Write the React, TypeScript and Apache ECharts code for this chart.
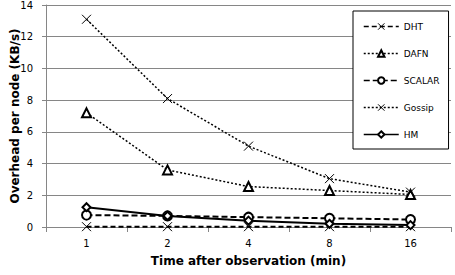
import React, { useEffect, useRef } from "react";
import * as echarts from "echarts";

const categories = ["1", "2", "4", "8", "16"];
const dht = [0.02, 0.02, 0.02, 0.02, 0.02];
const dafn = [7.2, 3.6, 2.55, 2.3, 2.05];
const scalar = [0.75, 0.7, 0.62, 0.55, 0.47];
const gossip = [13.1, 8.1, 5.1, 3.05, 2.2];
const hm = [1.25, 0.7, 0.4, 0.2, 0.12];
const yTicks = { min: 0, max: 14, interval: 2 };

const FONT = "DejaVu Sans";
const cross = "path://M0,0L10,10M10,0L0,10";

export default function App() {
  const ref = useRef<HTMLDivElement>(null);
  useEffect(() => {
    const chart = echarts.init(ref.current!, null, { renderer: "svg" });
    const mk = (name: string, data: number[], lineType: any, width: number, symbol: string, size: number) => ({
      name,
      type: "line",
      data,
      symbol,
      symbolSize: size,
      showAllSymbol: true,
      lineStyle: { color: "#000", width, type: lineType },
      itemStyle: symbol.startsWith("path")
        ? { color: "rgba(0,0,0,0)", borderColor: "#000", borderWidth: 1 }
        : { color: "#000", borderColor: "#000", borderWidth: 1 },
    });
    chart.setOption({
      animation: false,
      textStyle: { fontFamily: FONT },
      grid: { left: 46, right: 4, top: 5, bottom: 48, outerBoundsMode: "none", containLabel: false },
      legend: {
        orient: "vertical",
        left: 353,
        top: 11,
        padding: [11, 9, 10, 10],
        itemGap: 18,
        itemWidth: 35,
        itemHeight: 8,
        borderColor: "#000",
        borderWidth: 1,
        borderRadius: 0,
        backgroundColor: "#fff",
        lineStyle: { width: 1.5 },
        itemStyle: { borderWidth: 1 },
        textStyle: { fontFamily: FONT, fontSize: 9, color: "#000" },
        data: ["DHT", "DAFN", "SCALAR", "Gossip", "HM"],
      },
      xAxis: {
        type: "category",
        data: categories,
        boundaryGap: true,
        name: "Time after observation (min)",
        nameLocation: "middle",
        nameGap: 28,
        nameMoveOverlap: false,
        nameTextStyle: { fontFamily: FONT, fontSize: 12, fontWeight: "bold", color: "#000" },
        axisLine: { lineStyle: { color: "#868686" } },
        axisTick: { show: true, length: 5, lineStyle: { color: "#868686" } },
        axisLabel: { fontFamily: FONT, fontSize: 10, color: "#000", margin: 11 },
      },
      yAxis: {
        type: "value",
        ...yTicks,
        name: "Overhead per node (KB/s)",
        nameLocation: "middle",
        nameGap: 25,
        nameMoveOverlap: false,
        nameTextStyle: { fontFamily: FONT, fontSize: 12, fontWeight: "bold", color: "#000" },
        axisLine: { show: true, lineStyle: { color: "#868686" } },
        axisTick: { show: true, length: 4, lineStyle: { color: "#868686" } },
        axisLabel: { fontFamily: FONT, fontSize: 10, color: "#000", margin: 13, showMaxLabel: true },
        splitLine: { lineStyle: { color: "#868686", width: 1 } },
      },
      series: [
        mk("DHT", dht, [5, 3], 2, cross, 9),
        mk("DAFN", dafn, [2, 2], 1.5, "emptyTriangle", 9),
        mk("SCALAR", scalar, [6, 3], 2, "emptyCircle", 9),
        mk("Gossip", gossip, [2, 2], 1.5, cross, 9),
        mk("HM", hm, "solid", 2, "emptyDiamond", 8),
      ],
    });
    return () => chart.dispose();
  }, []);
  return <div ref={ref} style={{ width: 455, height: 275, position: "absolute", left: 0, top: 0 }} />;
}
